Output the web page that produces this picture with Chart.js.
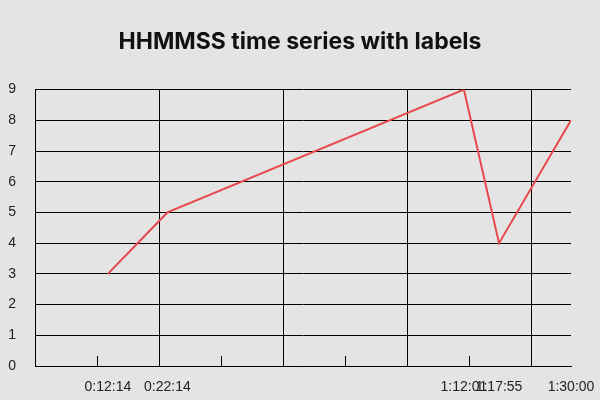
<!DOCTYPE html>
<html>
<head>
<meta charset="utf-8">
<script src="https://cdn.jsdelivr.net/npm/chart.js@4.4.1/dist/chart.umd.min.js"></script>
<style>
  html, body { margin: 0; padding: 0; background: #e4e4e4; }
  #wrap { width: 600px; height: 400px; }
</style>
</head>
<body>
<div id="wrap"><canvas id="chart"></canvas></div>
<script>
/* --------------- Data --------------------- */
const timeLabels = ["0:12:14", "0:22:14", "1:12:01", "1:17:55", "1:30:00"];
const values = [3, 5, 9, 4, 8];

// x axis runs in seconds, grid every 1250 s with a small tick in between
const xMin = 0;
const xMax = 5400;
const gridStep = 1250;
const tickStep = 625;

const toSeconds = (s) => {
  const [h, m, sec] = s.split(":").map(Number);
  return h * 3600 + m * 60 + sec;
};
const xSeconds = timeLabels.map(toSeconds);

const tickFont = { family: "'Liberation Sans', Arial, sans-serif", size: 14 };

/* --------------- Chart --------------------- */
const ctx = document.getElementById("chart");

new Chart(ctx, {
  type: "line",
  data: {
    datasets: [
      {
        data: xSeconds.map((x, i) => ({ x: x, y: values[i] })),
        borderColor: "#e8474b",
        borderWidth: 2,
        pointRadius: 0,
        tension: 0,
      },
    ],
  },
  options: {
    responsive: true,
    maintainAspectRatio: false,
    animation: false,
    layout: { padding: 0 },
    plugins: {
      legend: { display: false },
      tooltip: { enabled: false },
      title: {
        display: true,
        text: "HHMMSS time series with labels",
        color: "#111",
        font: { family: "Inter", size: 23, weight: "bold" },
        padding: { top: 28, bottom: 34 },
      },
    },
    scales: {
      x: {
        type: "linear",
        min: xMin,
        max: xMax,
        afterBuildTicks: (scale) => {
          const vals = [];
          for (let v = tickStep; v < xMax; v += tickStep) vals.push(v);
          xSeconds.forEach((v) => { if (!vals.includes(v)) vals.push(v); });
          vals.sort((a, b) => a - b);
          scale.ticks = vals.map((v) => ({ value: v }));
        },
        afterFit: (scale) => {
          // keep the plot box where the reference has it
          scale.height = 34;
          scale.paddingLeft = 0;
          scale.paddingRight = 29;
        },
        ticks: {
          autoSkip: false,
          maxRotation: 0,
          minRotation: 0,
          padding: 23,
          color: "#222",
          font: tickFont,
          callback: (v) => {
            const i = xSeconds.indexOf(v);
            return i >= 0 ? timeLabels[i] : "";
          },
        },
        grid: {
          tickLength: -10,
          lineWidth: 1,
          color: (c) => (c.tick && !xSeconds.includes(c.tick.value) && c.tick.value % gridStep === 0 ? "#000" : "rgba(0,0,0,0)"),
          tickColor: (c) => (c.tick && !xSeconds.includes(c.tick.value) && c.tick.value % gridStep !== 0 ? "#000" : "rgba(0,0,0,0)"),
        },
        border: { display: true, color: "#000", width: 1 },
      },
      y: {
        min: 0,
        max: 9,
        afterFit: (scale) => {
          scale.width = 35;
        },
        ticks: {
          stepSize: 1,
          padding: 19,
          color: "#222",
          font: tickFont,
        },
        grid: { color: "#000", drawTicks: false },
        border: { display: true, color: "#000", width: 1 },
      },
    },
  },
});
</script>
</body>
</html>
